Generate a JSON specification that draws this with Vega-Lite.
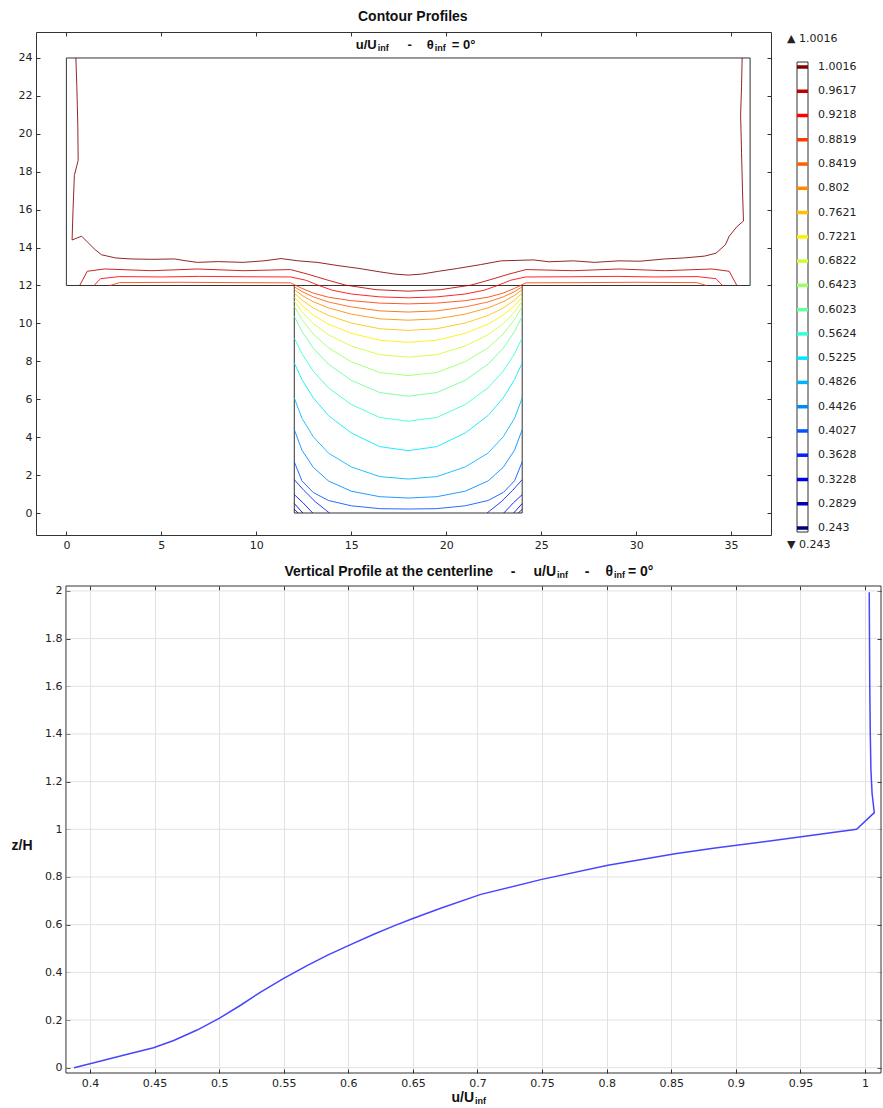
{
  "$schema": "https://vega.github.io/schema/vega-lite/v6.json",
  "background": "white",
  "autosize": {"type": "none"},
  "padding": {"left": 36, "top": 32, "right": 847, "bottom": 1076},
  "bounds": "flush",
  "spacing": 51,
  "config": {
    "view": {"stroke": null},
    "axis": {"labelFont": "DejaVu Sans", "labelFontSize": 11, "labelColor": "#222", "tickColor": "#333", "tickSize": -4, "labelPadding": 8, "domain": false, "grid": false},
    "text": {"font": "Liberation Sans", "fontWeight": "bold", "fontSize": 14, "color": "#111"}
  },
  "datasets": {
    "outline": [
      {"id": "top", "x": 0, "y": 12}, {"id": "top", "x": 0, "y": 24}, {"id": "top", "x": 36, "y": 24}, {"id": "top", "x": 36, "y": 12}, {"id": "top", "x": 0, "y": 12},
      {"id": "slot", "x": 12, "y": 12}, {"id": "slot", "x": 12, "y": 0}, {"id": "slot", "x": 24, "y": 0}, {"id": "slot", "x": 24, "y": 12}
    ],
    "levels": [
      {"level": 1.0016, "label": "1.0016"}, {"level": 0.9617, "label": "0.9617"}, {"level": 0.9218, "label": "0.9218"}, {"level": 0.8819, "label": "0.8819"},
      {"level": 0.8419, "label": "0.8419"}, {"level": 0.802, "label": "0.802"}, {"level": 0.7621, "label": "0.7621"}, {"level": 0.7221, "label": "0.7221"},
      {"level": 0.6822, "label": "0.6822"}, {"level": 0.6423, "label": "0.6423"}, {"level": 0.6023, "label": "0.6023"}, {"level": 0.5624, "label": "0.5624"},
      {"level": 0.5225, "label": "0.5225"}, {"level": 0.4826, "label": "0.4826"}, {"level": 0.4426, "label": "0.4426"}, {"level": 0.4027, "label": "0.4027"},
      {"level": 0.3628, "label": "0.3628"}, {"level": 0.3228, "label": "0.3228"}, {"level": 0.2829, "label": "0.2829"}, {"level": 0.243, "label": "0.243"}
    ],
    "hgrid": [{"z": 0}, {"z": 0.2}, {"z": 0.4}, {"z": 0.6}, {"z": 0.8}, {"z": 1}, {"z": 1.2}, {"z": 1.4}, {"z": 1.6}, {"z": 1.8}, {"z": 2}],
    "profile": [
      {"u": 0.3876, "z": 0}, {"u": 0.4, "z": 0.0165}, {"u": 0.4259, "z": 0.052}, {"u": 0.4492, "z": 0.084}, {"u": 0.4648, "z": 0.114},
      {"u": 0.4829, "z": 0.158}, {"u": 0.5, "z": 0.207}, {"u": 0.5166, "z": 0.262}, {"u": 0.5321, "z": 0.317}, {"u": 0.55, "z": 0.375},
      {"u": 0.5684, "z": 0.429}, {"u": 0.584, "z": 0.472}, {"u": 0.6, "z": 0.512}, {"u": 0.6202, "z": 0.561}, {"u": 0.6358, "z": 0.596},
      {"u": 0.65, "z": 0.626}, {"u": 0.672, "z": 0.67}, {"u": 0.7026, "z": 0.727}, {"u": 0.749, "z": 0.789}, {"u": 0.801, "z": 0.849},
      {"u": 0.853, "z": 0.897}, {"u": 0.884, "z": 0.922}, {"u": 0.9306, "z": 0.954}, {"u": 0.9935, "z": 1.0}, {"u": 1.0072, "z": 1.07},
      {"u": 1.0055, "z": 1.15}, {"u": 1.0046, "z": 1.25}, {"u": 1.0041, "z": 1.4}, {"u": 1.0037, "z": 1.6}, {"u": 1.0035, "z": 1.8}, {"u": 1.0033, "z": 1.994}
    ],
    "contours": [
      {"id": "u100", "level": 1.0016, "x": 0.5, "y": 24}, {"id": "u100", "level": 1.0016, "x": 0.55, "y": 22.5}, {"id": "u100", "level": 1.0016, "x": 0.6, "y": 20.5},
      {"id": "u100", "level": 1.0016, "x": 0.62, "y": 18.6}, {"id": "u100", "level": 1.0016, "x": 0.42, "y": 17.8}, {"id": "u100", "level": 1.0016, "x": 0.35, "y": 16},
      {"id": "u100", "level": 1.0016, "x": 0.3, "y": 14.4}, {"id": "u100", "level": 1.0016, "x": 0.8, "y": 14.6}, {"id": "u100", "level": 1.0016, "x": 1.1, "y": 14.3},
      {"id": "u100", "level": 1.0016, "x": 1.5, "y": 13.9}, {"id": "u100", "level": 1.0016, "x": 1.85, "y": 13.62}, {"id": "u100", "level": 1.0016, "x": 2.6, "y": 13.45},
      {"id": "u100", "level": 1.0016, "x": 3.4, "y": 13.4}, {"id": "u100", "level": 1.0016, "x": 4.5, "y": 13.38}, {"id": "u100", "level": 1.0016, "x": 5.7, "y": 13.4},
      {"id": "u100", "level": 1.0016, "x": 6.3, "y": 13.3}, {"id": "u100", "level": 1.0016, "x": 6.9, "y": 13.22}, {"id": "u100", "level": 1.0016, "x": 8, "y": 13.26},
      {"id": "u100", "level": 1.0016, "x": 9.3, "y": 13.22}, {"id": "u100", "level": 1.0016, "x": 10.4, "y": 13.3}, {"id": "u100", "level": 1.0016, "x": 11.3, "y": 13.42},
      {"id": "u100", "level": 1.0016, "x": 12.2, "y": 13.3}, {"id": "u100", "level": 1.0016, "x": 13.2, "y": 13.22}, {"id": "u100", "level": 1.0016, "x": 14.3, "y": 13.05},
      {"id": "u100", "level": 1.0016, "x": 15.4, "y": 12.9}, {"id": "u100", "level": 1.0016, "x": 16.5, "y": 12.72}, {"id": "u100", "level": 1.0016, "x": 17.3, "y": 12.6},
      {"id": "u100", "level": 1.0016, "x": 18, "y": 12.55}, {"id": "u100", "level": 1.0016, "x": 18.7, "y": 12.6}, {"id": "u100", "level": 1.0016, "x": 19.6, "y": 12.75},
      {"id": "u100", "level": 1.0016, "x": 20.6, "y": 12.9}, {"id": "u100", "level": 1.0016, "x": 21.8, "y": 13.1}, {"id": "u100", "level": 1.0016, "x": 22.9, "y": 13.3},
      {"id": "u100", "level": 1.0016, "x": 24.6, "y": 13.35}, {"id": "u100", "level": 1.0016, "x": 25.4, "y": 13.25}, {"id": "u100", "level": 1.0016, "x": 26.7, "y": 13.3},
      {"id": "u100", "level": 1.0016, "x": 27.8, "y": 13.22}, {"id": "u100", "level": 1.0016, "x": 29.1, "y": 13.3}, {"id": "u100", "level": 1.0016, "x": 30.2, "y": 13.28},
      {"id": "u100", "level": 1.0016, "x": 31.5, "y": 13.4}, {"id": "u100", "level": 1.0016, "x": 32.5, "y": 13.45}, {"id": "u100", "level": 1.0016, "x": 33.6, "y": 13.55},
      {"id": "u100", "level": 1.0016, "x": 34.2, "y": 13.7}, {"id": "u100", "level": 1.0016, "x": 34.7, "y": 14.15}, {"id": "u100", "level": 1.0016, "x": 34.9, "y": 14.6},
      {"id": "u100", "level": 1.0016, "x": 35.3, "y": 15.1}, {"id": "u100", "level": 1.0016, "x": 35.65, "y": 15.4}, {"id": "u100", "level": 1.0016, "x": 35.6, "y": 17},
      {"id": "u100", "level": 1.0016, "x": 35.55, "y": 19}, {"id": "u100", "level": 1.0016, "x": 35.5, "y": 21}, {"id": "u100", "level": 1.0016, "x": 35.55, "y": 22.5},
      {"id": "u100", "level": 1.0016, "x": 35.58, "y": 24},

      {"id": "u96", "level": 0.9617, "x": 0.7, "y": 12}, {"id": "u96", "level": 0.9617, "x": 1.1, "y": 12.75}, {"id": "u96", "level": 0.9617, "x": 2, "y": 12.87},
      {"id": "u96", "level": 0.9617, "x": 4.5, "y": 12.78}, {"id": "u96", "level": 0.9617, "x": 6.9, "y": 12.87}, {"id": "u96", "level": 0.9617, "x": 9.3, "y": 12.78},
      {"id": "u96", "level": 0.9617, "x": 11.8, "y": 12.84}, {"id": "u96", "level": 0.9617, "x": 12.7, "y": 12.6}, {"id": "u96", "level": 0.9617, "x": 13.7, "y": 12.3},
      {"id": "u96", "level": 0.9617, "x": 14.7, "y": 12.02}, {"id": "u96", "level": 0.9617, "x": 16.3, "y": 11.78}, {"id": "u96", "level": 0.9617, "x": 18, "y": 11.7},
      {"id": "u96", "level": 0.9617, "x": 19.7, "y": 11.78}, {"id": "u96", "level": 0.9617, "x": 21.3, "y": 12.02}, {"id": "u96", "level": 0.9617, "x": 22.3, "y": 12.3},
      {"id": "u96", "level": 0.9617, "x": 23.3, "y": 12.6}, {"id": "u96", "level": 0.9617, "x": 24.2, "y": 12.84}, {"id": "u96", "level": 0.9617, "x": 26.7, "y": 12.78},
      {"id": "u96", "level": 0.9617, "x": 29.1, "y": 12.87}, {"id": "u96", "level": 0.9617, "x": 31.5, "y": 12.78}, {"id": "u96", "level": 0.9617, "x": 34, "y": 12.87},
      {"id": "u96", "level": 0.9617, "x": 34.9, "y": 12.75}, {"id": "u96", "level": 0.9617, "x": 35.3, "y": 12},

      {"id": "u92", "level": 0.9218, "x": 1.45, "y": 12}, {"id": "u92", "level": 0.9218, "x": 1.8, "y": 12.36}, {"id": "u92", "level": 0.9218, "x": 2.8, "y": 12.47},
      {"id": "u92", "level": 0.9218, "x": 5, "y": 12.45}, {"id": "u92", "level": 0.9218, "x": 7, "y": 12.48}, {"id": "u92", "level": 0.9218, "x": 9.5, "y": 12.46},
      {"id": "u92", "level": 0.9218, "x": 11.8, "y": 12.45}, {"id": "u92", "level": 0.9218, "x": 12.6, "y": 12.28}, {"id": "u92", "level": 0.9218, "x": 13.3, "y": 12},
      {"id": "u92", "level": 0.9218, "x": 14, "y": 11.75}, {"id": "u92", "level": 0.9218, "x": 15, "y": 11.55}, {"id": "u92", "level": 0.9218, "x": 16.5, "y": 11.4},
      {"id": "u92", "level": 0.9218, "x": 18, "y": 11.35}, {"id": "u92", "level": 0.9218, "x": 19.5, "y": 11.4}, {"id": "u92", "level": 0.9218, "x": 21, "y": 11.55},
      {"id": "u92", "level": 0.9218, "x": 22, "y": 11.75}, {"id": "u92", "level": 0.9218, "x": 22.7, "y": 12}, {"id": "u92", "level": 0.9218, "x": 23.4, "y": 12.28},
      {"id": "u92", "level": 0.9218, "x": 24.2, "y": 12.45}, {"id": "u92", "level": 0.9218, "x": 26.5, "y": 12.46}, {"id": "u92", "level": 0.9218, "x": 29, "y": 12.48},
      {"id": "u92", "level": 0.9218, "x": 31, "y": 12.45}, {"id": "u92", "level": 0.9218, "x": 33.2, "y": 12.47}, {"id": "u92", "level": 0.9218, "x": 34.2, "y": 12.36},
      {"id": "u92", "level": 0.9218, "x": 34.55, "y": 12},

      {"id": "u88", "level": 0.8819, "x": 2.3, "y": 12}, {"id": "u88", "level": 0.8819, "x": 2.8, "y": 12.15}, {"id": "u88", "level": 0.8819, "x": 6, "y": 12.17},
      {"id": "u88", "level": 0.8819, "x": 9, "y": 12.15}, {"id": "u88", "level": 0.8819, "x": 11.8, "y": 12.14}, {"id": "u88", "level": 0.8819, "x": 12.4, "y": 11.85},
      {"id": "u88", "level": 0.8819, "x": 13, "y": 11.6}, {"id": "u88", "level": 0.8819, "x": 13.8, "y": 11.38}, {"id": "u88", "level": 0.8819, "x": 15, "y": 11.2},
      {"id": "u88", "level": 0.8819, "x": 16.5, "y": 11.07}, {"id": "u88", "level": 0.8819, "x": 18, "y": 11.03}, {"id": "u88", "level": 0.8819, "x": 19.5, "y": 11.07},
      {"id": "u88", "level": 0.8819, "x": 21, "y": 11.2}, {"id": "u88", "level": 0.8819, "x": 22.2, "y": 11.38}, {"id": "u88", "level": 0.8819, "x": 23, "y": 11.6},
      {"id": "u88", "level": 0.8819, "x": 23.6, "y": 11.85}, {"id": "u88", "level": 0.8819, "x": 24.2, "y": 12.14}, {"id": "u88", "level": 0.8819, "x": 27, "y": 12.15},
      {"id": "u88", "level": 0.8819, "x": 30, "y": 12.17}, {"id": "u88", "level": 0.8819, "x": 33.2, "y": 12.15}, {"id": "u88", "level": 0.8819, "x": 33.7, "y": 12},

      {"id": "s84", "level": 0.8419, "x": 12, "y": 11.93}, {"id": "s84", "level": 0.8419, "x": 12.4, "y": 11.68}, {"id": "s84", "level": 0.8419, "x": 13, "y": 11.4},
      {"id": "s84", "level": 0.8419, "x": 13.8, "y": 11.13}, {"id": "s84", "level": 0.8419, "x": 15, "y": 10.87}, {"id": "s84", "level": 0.8419, "x": 16.5, "y": 10.66},
      {"id": "s84", "level": 0.8419, "x": 18, "y": 10.6}, {"id": "s84", "level": 0.8419, "x": 19.5, "y": 10.66}, {"id": "s84", "level": 0.8419, "x": 21, "y": 10.87},
      {"id": "s84", "level": 0.8419, "x": 22.2, "y": 11.13}, {"id": "s84", "level": 0.8419, "x": 23, "y": 11.4}, {"id": "s84", "level": 0.8419, "x": 23.6, "y": 11.68},
      {"id": "s84", "level": 0.8419, "x": 24, "y": 11.93},

      {"id": "s80", "level": 0.802, "x": 12, "y": 11.79}, {"id": "s80", "level": 0.802, "x": 12.4, "y": 11.48}, {"id": "s80", "level": 0.802, "x": 13, "y": 11.14},
      {"id": "s80", "level": 0.802, "x": 13.8, "y": 10.82}, {"id": "s80", "level": 0.802, "x": 15, "y": 10.49}, {"id": "s80", "level": 0.802, "x": 16.5, "y": 10.24},
      {"id": "s80", "level": 0.802, "x": 18, "y": 10.17}, {"id": "s80", "level": 0.802, "x": 19.5, "y": 10.24}, {"id": "s80", "level": 0.802, "x": 21, "y": 10.49},
      {"id": "s80", "level": 0.802, "x": 22.2, "y": 10.82}, {"id": "s80", "level": 0.802, "x": 23, "y": 11.14}, {"id": "s80", "level": 0.802, "x": 23.6, "y": 11.48},
      {"id": "s80", "level": 0.802, "x": 24, "y": 11.79},

      {"id": "s76", "level": 0.7621, "x": 12, "y": 11.6}, {"id": "s76", "level": 0.7621, "x": 12.4, "y": 11.23}, {"id": "s76", "level": 0.7621, "x": 13, "y": 10.81},
      {"id": "s76", "level": 0.7621, "x": 13.8, "y": 10.42}, {"id": "s76", "level": 0.7621, "x": 15, "y": 10.02}, {"id": "s76", "level": 0.7621, "x": 16.5, "y": 9.72},
      {"id": "s76", "level": 0.7621, "x": 18, "y": 9.63}, {"id": "s76", "level": 0.7621, "x": 19.5, "y": 9.72}, {"id": "s76", "level": 0.7621, "x": 21, "y": 10.02},
      {"id": "s76", "level": 0.7621, "x": 22.2, "y": 10.42}, {"id": "s76", "level": 0.7621, "x": 23, "y": 10.81}, {"id": "s76", "level": 0.7621, "x": 23.6, "y": 11.23},
      {"id": "s76", "level": 0.7621, "x": 24, "y": 11.6},

      {"id": "s72", "level": 0.7221, "x": 12, "y": 11.4}, {"id": "s72", "level": 0.7221, "x": 12.4, "y": 10.94}, {"id": "s72", "level": 0.7221, "x": 13, "y": 10.44},
      {"id": "s72", "level": 0.7221, "x": 13.8, "y": 9.96}, {"id": "s72", "level": 0.7221, "x": 15, "y": 9.48}, {"id": "s72", "level": 0.7221, "x": 16.5, "y": 9.11},
      {"id": "s72", "level": 0.7221, "x": 18, "y": 9.0}, {"id": "s72", "level": 0.7221, "x": 19.5, "y": 9.11}, {"id": "s72", "level": 0.7221, "x": 21, "y": 9.48},
      {"id": "s72", "level": 0.7221, "x": 22.2, "y": 9.96}, {"id": "s72", "level": 0.7221, "x": 23, "y": 10.44}, {"id": "s72", "level": 0.7221, "x": 23.6, "y": 10.94},
      {"id": "s72", "level": 0.7221, "x": 24, "y": 11.4},

      {"id": "s68", "level": 0.6822, "x": 12, "y": 11.17}, {"id": "s68", "level": 0.6822, "x": 12.4, "y": 10.61}, {"id": "s68", "level": 0.6822, "x": 13, "y": 9.99},
      {"id": "s68", "level": 0.6822, "x": 13.8, "y": 9.4}, {"id": "s68", "level": 0.6822, "x": 15, "y": 8.81}, {"id": "s68", "level": 0.6822, "x": 16.5, "y": 8.35},
      {"id": "s68", "level": 0.6822, "x": 18, "y": 8.22}, {"id": "s68", "level": 0.6822, "x": 19.5, "y": 8.35}, {"id": "s68", "level": 0.6822, "x": 21, "y": 8.81},
      {"id": "s68", "level": 0.6822, "x": 22.2, "y": 9.4}, {"id": "s68", "level": 0.6822, "x": 23, "y": 9.99}, {"id": "s68", "level": 0.6822, "x": 23.6, "y": 10.61},
      {"id": "s68", "level": 0.6822, "x": 24, "y": 11.17},

      {"id": "s64", "level": 0.6423, "x": 12, "y": 10.9}, {"id": "s64", "level": 0.6423, "x": 12.4, "y": 10.21}, {"id": "s64", "level": 0.6423, "x": 13, "y": 9.44},
      {"id": "s64", "level": 0.6423, "x": 13.8, "y": 8.71}, {"id": "s64", "level": 0.6423, "x": 15, "y": 7.98}, {"id": "s64", "level": 0.6423, "x": 16.5, "y": 7.41},
      {"id": "s64", "level": 0.6423, "x": 18, "y": 7.25}, {"id": "s64", "level": 0.6423, "x": 19.5, "y": 7.41}, {"id": "s64", "level": 0.6423, "x": 21, "y": 7.98},
      {"id": "s64", "level": 0.6423, "x": 22.2, "y": 8.71}, {"id": "s64", "level": 0.6423, "x": 23, "y": 9.44}, {"id": "s64", "level": 0.6423, "x": 23.6, "y": 10.21},
      {"id": "s64", "level": 0.6423, "x": 24, "y": 10.9},

      {"id": "s60", "level": 0.6023, "x": 12, "y": 10.38}, {"id": "s60", "level": 0.6023, "x": 12.4, "y": 9.58}, {"id": "s60", "level": 0.6023, "x": 13, "y": 8.69},
      {"id": "s60", "level": 0.6023, "x": 13.8, "y": 7.85}, {"id": "s60", "level": 0.6023, "x": 15, "y": 7.0}, {"id": "s60", "level": 0.6023, "x": 16.5, "y": 6.35},
      {"id": "s60", "level": 0.6023, "x": 18, "y": 6.16}, {"id": "s60", "level": 0.6023, "x": 19.5, "y": 6.35}, {"id": "s60", "level": 0.6023, "x": 21, "y": 7.0},
      {"id": "s60", "level": 0.6023, "x": 22.2, "y": 7.85}, {"id": "s60", "level": 0.6023, "x": 23, "y": 8.69}, {"id": "s60", "level": 0.6023, "x": 23.6, "y": 9.58},
      {"id": "s60", "level": 0.6023, "x": 24, "y": 10.38},

      {"id": "s56", "level": 0.5624, "x": 12, "y": 9.24}, {"id": "s56", "level": 0.5624, "x": 12.4, "y": 8.4}, {"id": "s56", "level": 0.5624, "x": 13, "y": 7.48},
      {"id": "s56", "level": 0.5624, "x": 13.8, "y": 6.6}, {"id": "s56", "level": 0.5624, "x": 15, "y": 5.72}, {"id": "s56", "level": 0.5624, "x": 16.5, "y": 5.04},
      {"id": "s56", "level": 0.5624, "x": 18, "y": 4.84}, {"id": "s56", "level": 0.5624, "x": 19.5, "y": 5.04}, {"id": "s56", "level": 0.5624, "x": 21, "y": 5.72},
      {"id": "s56", "level": 0.5624, "x": 22.2, "y": 6.6}, {"id": "s56", "level": 0.5624, "x": 23, "y": 7.48}, {"id": "s56", "level": 0.5624, "x": 23.6, "y": 8.4},
      {"id": "s56", "level": 0.5624, "x": 24, "y": 9.24},

      {"id": "s52", "level": 0.5225, "x": 12, "y": 7.92}, {"id": "s52", "level": 0.5225, "x": 12.4, "y": 7.04}, {"id": "s52", "level": 0.5225, "x": 13, "y": 6.07},
      {"id": "s52", "level": 0.5225, "x": 13.8, "y": 5.14}, {"id": "s52", "level": 0.5225, "x": 15, "y": 4.22}, {"id": "s52", "level": 0.5225, "x": 16.5, "y": 3.5},
      {"id": "s52", "level": 0.5225, "x": 18, "y": 3.29}, {"id": "s52", "level": 0.5225, "x": 19.5, "y": 3.5}, {"id": "s52", "level": 0.5225, "x": 21, "y": 4.22},
      {"id": "s52", "level": 0.5225, "x": 22.2, "y": 5.14}, {"id": "s52", "level": 0.5225, "x": 23, "y": 6.07}, {"id": "s52", "level": 0.5225, "x": 23.6, "y": 7.04},
      {"id": "s52", "level": 0.5225, "x": 24, "y": 7.92},

      {"id": "s48", "level": 0.4826, "x": 12, "y": 6.07}, {"id": "s48", "level": 0.4826, "x": 12.4, "y": 5.0}, {"id": "s48", "level": 0.4826, "x": 13, "y": 4.02},
      {"id": "s48", "level": 0.4826, "x": 13.8, "y": 3.16}, {"id": "s48", "level": 0.4826, "x": 15, "y": 2.43}, {"id": "s48", "level": 0.4826, "x": 16.5, "y": 1.92},
      {"id": "s48", "level": 0.4826, "x": 18, "y": 1.79}, {"id": "s48", "level": 0.4826, "x": 19.5, "y": 1.92}, {"id": "s48", "level": 0.4826, "x": 21, "y": 2.43},
      {"id": "s48", "level": 0.4826, "x": 22.2, "y": 3.16}, {"id": "s48", "level": 0.4826, "x": 23, "y": 4.02}, {"id": "s48", "level": 0.4826, "x": 23.6, "y": 5.0},
      {"id": "s48", "level": 0.4826, "x": 24, "y": 6.07},

      {"id": "s44", "level": 0.4426, "x": 12, "y": 4.4}, {"id": "s44", "level": 0.4426, "x": 12.4, "y": 3.32}, {"id": "s44", "level": 0.4426, "x": 13, "y": 2.41},
      {"id": "s44", "level": 0.4426, "x": 13.8, "y": 1.69}, {"id": "s44", "level": 0.4426, "x": 15, "y": 1.15}, {"id": "s44", "level": 0.4426, "x": 16.5, "y": 0.86},
      {"id": "s44", "level": 0.4426, "x": 18, "y": 0.79}, {"id": "s44", "level": 0.4426, "x": 19.5, "y": 0.86}, {"id": "s44", "level": 0.4426, "x": 21, "y": 1.15},
      {"id": "s44", "level": 0.4426, "x": 22.2, "y": 1.69}, {"id": "s44", "level": 0.4426, "x": 23, "y": 2.41}, {"id": "s44", "level": 0.4426, "x": 23.6, "y": 3.32},
      {"id": "s44", "level": 0.4426, "x": 24, "y": 4.4},

      {"id": "s40", "level": 0.4027, "x": 12, "y": 2.7}, {"id": "s40", "level": 0.4027, "x": 12.4, "y": 1.7}, {"id": "s40", "level": 0.4027, "x": 13, "y": 1.08},
      {"id": "s40", "level": 0.4027, "x": 13.8, "y": 0.66}, {"id": "s40", "level": 0.4027, "x": 15, "y": 0.38}, {"id": "s40", "level": 0.4027, "x": 16.5, "y": 0.23},
      {"id": "s40", "level": 0.4027, "x": 18, "y": 0.21}, {"id": "s40", "level": 0.4027, "x": 19.5, "y": 0.23}, {"id": "s40", "level": 0.4027, "x": 21, "y": 0.38},
      {"id": "s40", "level": 0.4027, "x": 22.2, "y": 0.66}, {"id": "s40", "level": 0.4027, "x": 23, "y": 1.08}, {"id": "s40", "level": 0.4027, "x": 23.6, "y": 1.7},
      {"id": "s40", "level": 0.4027, "x": 24, "y": 2.7},

      {"id": "c36L", "level": 0.3628, "x": 12, "y": 1.76}, {"id": "c36L", "level": 0.3628, "x": 12.5, "y": 1.2}, {"id": "c36L", "level": 0.3628, "x": 13.1, "y": 0.6}, {"id": "c36L", "level": 0.3628, "x": 13.85, "y": 0},
      {"id": "c36R", "level": 0.3628, "x": 24, "y": 1.76}, {"id": "c36R", "level": 0.3628, "x": 23.5, "y": 1.2}, {"id": "c36R", "level": 0.3628, "x": 22.9, "y": 0.6}, {"id": "c36R", "level": 0.3628, "x": 22.15, "y": 0},
      {"id": "c32L", "level": 0.3228, "x": 12, "y": 0.97}, {"id": "c32L", "level": 0.3228, "x": 12.45, "y": 0.55}, {"id": "c32L", "level": 0.3228, "x": 12.97, "y": 0},
      {"id": "c32R", "level": 0.3228, "x": 24, "y": 0.97}, {"id": "c32R", "level": 0.3228, "x": 23.55, "y": 0.55}, {"id": "c32R", "level": 0.3228, "x": 23.03, "y": 0},
      {"id": "c28L", "level": 0.2829, "x": 12, "y": 0.5}, {"id": "c28L", "level": 0.2829, "x": 12.45, "y": 0},
      {"id": "c28R", "level": 0.2829, "x": 24, "y": 0.5}, {"id": "c28R", "level": 0.2829, "x": 23.55, "y": 0},
      {"id": "c24L", "level": 0.243, "x": 12, "y": 0.2}, {"id": "c24L", "level": 0.243, "x": 12.2, "y": 0},
      {"id": "c24R", "level": 0.243, "x": 24, "y": 0.2}, {"id": "c24R", "level": 0.243, "x": 23.8, "y": 0}
    ]
  },
  "vconcat": [
    {
      "width": 735,
      "height": 503,
      "view": {"stroke": "#333"},
      "resolve": {"scale": {"x": "independent", "y": "independent"}},
      "layer": [
        {
          "layer": [
            {
              "data": {"name": "outline"},
              "mark": {"type": "line", "color": "#333", "strokeWidth": 1},
              "encoding": {
                "x": {"field": "x", "type": "quantitative", "title": null, "scale": {"domain": [-1.6, 37.1], "nice": false, "zero": false}, "axis": {"values": [0, 5, 10, 15, 20, 25, 30, 35]}},
                "y": {"field": "y", "type": "quantitative", "title": null, "scale": {"domain": [-1.16, 25.37], "nice": false, "zero": false}, "axis": {"values": [0, 2, 4, 6, 8, 10, 12, 14, 16, 18, 20, 22, 24]}},
                "detail": {"field": "id"},
                "order": {"value": null}
              }
            },
            {
              "data": {"name": "contours"},
              "mark": {"type": "line", "strokeWidth": 1, "opacity": 0.85},
              "encoding": {
                "x": {"field": "x", "type": "quantitative", "title": null, "scale": {"domain": [-1.6, 37.1], "nice": false, "zero": false}},
                "y": {"field": "y", "type": "quantitative", "title": null, "scale": {"domain": [-1.16, 25.37], "nice": false, "zero": false}},
                "detail": {"field": "id"},
                "color": {"field": "level", "type": "ordinal", "legend": null, "scale": {"domain": [0.243, 0.2829, 0.3228, 0.3628, 0.4027, 0.4426, 0.4826, 0.5225, 0.5624, 0.6023, 0.6423, 0.6822, 0.7221, 0.7621, 0.802, 0.8419, 0.8819, 0.9218, 0.9617, 1.0016], "range": ["#00007a", "#0000b0", "#0000e6", "#0022ff", "#0055ff", "#0088ff", "#00b4ff", "#00e6ff", "#33ffd6", "#66ff99", "#99ff66", "#ccff33", "#ffee00", "#ffc000", "#ff8c00", "#ff6000", "#ff3c00", "#ff0000", "#c00000", "#800000"]}},
                "order": {"value": null}
              }
            },
            {
              "data": {"values": [{}]},
              "mark": {"type": "text", "text": "Contour Profiles", "align": "center", "baseline": "alphabetic"},
              "encoding": {"x": {"datum": 18.24, "scale": {"domain": [-1.6, 37.1], "nice": false, "zero": false}}, "y": {"datum": 25.97, "scale": {"domain": [-1.16, 25.37], "nice": false, "zero": false}}}
            },
            {
              "data": {"values": [{}]},
              "mark": {"type": "text", "text": "u/U", "align": "right", "baseline": "alphabetic", "fontSize": 13},
              "encoding": {"x": {"datum": 16.34, "scale": {"domain": [-1.6, 37.1], "nice": false, "zero": false}}, "y": {"datum": 24.46, "scale": {"domain": [-1.16, 25.37], "nice": false, "zero": false}}}
            },
            {
              "data": {"values": [{}]},
              "mark": {"type": "text", "text": "inf", "align": "left", "baseline": "alphabetic", "fontSize": 9, "dy": 2},
              "encoding": {"x": {"datum": 16.39, "scale": {"domain": [-1.6, 37.1], "nice": false, "zero": false}}, "y": {"datum": 24.46, "scale": {"domain": [-1.16, 25.37], "nice": false, "zero": false}}}
            },
            {
              "data": {"values": [{}]},
              "mark": {"type": "text", "text": "-", "align": "center", "baseline": "alphabetic", "fontSize": 13},
              "encoding": {"x": {"datum": 18.08, "scale": {"domain": [-1.6, 37.1], "nice": false, "zero": false}}, "y": {"datum": 24.46, "scale": {"domain": [-1.16, 25.37], "nice": false, "zero": false}}}
            },
            {
              "data": {"values": [{}]},
              "mark": {"type": "text", "text": "θ", "align": "right", "baseline": "alphabetic", "fontSize": 13},
              "encoding": {"x": {"datum": 19.34, "scale": {"domain": [-1.6, 37.1], "nice": false, "zero": false}}, "y": {"datum": 24.46, "scale": {"domain": [-1.16, 25.37], "nice": false, "zero": false}}}
            },
            {
              "data": {"values": [{}]},
              "mark": {"type": "text", "text": "inf", "align": "left", "baseline": "alphabetic", "fontSize": 9, "dy": 2},
              "encoding": {"x": {"datum": 19.39, "scale": {"domain": [-1.6, 37.1], "nice": false, "zero": false}}, "y": {"datum": 24.46, "scale": {"domain": [-1.16, 25.37], "nice": false, "zero": false}}}
            },
            {
              "data": {"values": [{}]},
              "mark": {"type": "text", "text": "= 0°", "align": "left", "baseline": "alphabetic", "fontSize": 13},
              "encoding": {"x": {"datum": 20.29, "scale": {"domain": [-1.6, 37.1], "nice": false, "zero": false}}, "y": {"datum": 24.46, "scale": {"domain": [-1.16, 25.37], "nice": false, "zero": false}}}
            }
          ]
        },
        {
          "data": {"values": [{"x": 0, "y": 0}]},
          "mark": {"type": "point", "opacity": 0},
          "encoding": {
            "x": {"field": "x", "type": "quantitative", "title": null, "scale": {"domain": [-1.6, 37.1], "nice": false, "zero": false}, "axis": {"orient": "top", "labels": false, "values": [0, 5, 10, 15, 20, 25, 30, 35]}},
            "y": {"field": "y", "type": "quantitative", "title": null, "scale": {"domain": [-1.16, 25.37], "nice": false, "zero": false}, "axis": {"orient": "right", "labels": false, "values": [0, 2, 4, 6, 8, 10, 12, 14, 16, 18, 20, 22, 24]}}
          }
        },
        {
          "layer": [
            {
              "data": {"values": [{}]},
              "mark": {"type": "rect", "fill": "white", "stroke": "#333", "strokeWidth": 1},
              "encoding": {
                "x": {"datum": 0, "scale": {"domain": [-69.18, -2.364], "nice": false, "zero": false}, "axis": null},
                "x2": {"datum": 1},
                "y": {"datum": 1.0098, "scale": {"domain": [0.2315, 1.0592], "nice": false, "zero": false}, "axis": null},
                "y2": {"datum": 0.2364}
              }
            },
            {
              "data": {"name": "levels"},
              "mark": {"type": "rule", "strokeWidth": 3.5},
              "encoding": {
                "x": {"datum": 0, "scale": {"domain": [-69.18, -2.364], "nice": false, "zero": false}, "axis": null},
                "x2": {"datum": 1},
                "y": {"field": "level", "type": "quantitative", "scale": {"domain": [0.2315, 1.0592], "nice": false, "zero": false}, "axis": null},
                "color": {"field": "level", "type": "ordinal", "legend": null, "scale": {"domain": [0.243, 0.2829, 0.3228, 0.3628, 0.4027, 0.4426, 0.4826, 0.5225, 0.5624, 0.6023, 0.6423, 0.6822, 0.7221, 0.7621, 0.802, 0.8419, 0.8819, 0.9218, 0.9617, 1.0016], "range": ["#00007a", "#0000b0", "#0000e6", "#0022ff", "#0055ff", "#0088ff", "#00b4ff", "#00e6ff", "#33ffd6", "#66ff99", "#99ff66", "#ccff33", "#ffee00", "#ffc000", "#ff8c00", "#ff6000", "#ff3c00", "#ff0000", "#c00000", "#800000"]}}
              }
            },
            {
              "data": {"name": "levels"},
              "mark": {"type": "text", "align": "left", "baseline": "middle", "dx": 10, "font": "DejaVu Sans", "fontWeight": "normal", "fontSize": 11, "color": "#222"},
              "encoding": {
                "x": {"datum": 1, "scale": {"domain": [-69.18, -2.364], "nice": false, "zero": false}, "axis": null},
                "y": {"field": "level", "type": "quantitative", "scale": {"domain": [0.2315, 1.0592], "nice": false, "zero": false}, "axis": null},
                "text": {"field": "label"}
              }
            },
            {
              "data": {"values": [{}]},
              "mark": {"type": "text", "text": "▲ 1.0016", "align": "left", "baseline": "middle", "font": "DejaVu Sans", "fontWeight": "normal", "fontSize": 11, "color": "#222"},
              "encoding": {
                "x": {"datum": -0.9, "scale": {"domain": [-69.18, -2.364], "nice": false, "zero": false}, "axis": null},
                "y": {"datum": 1.0477, "scale": {"domain": [0.2315, 1.0592], "nice": false, "zero": false}, "axis": null}
              }
            },
            {
              "data": {"values": [{}]},
              "mark": {"type": "text", "text": "▼ 0.243", "align": "left", "baseline": "middle", "font": "DejaVu Sans", "fontWeight": "normal", "fontSize": 11, "color": "#222"},
              "encoding": {
                "x": {"datum": -0.9, "scale": {"domain": [-69.18, -2.364], "nice": false, "zero": false}, "axis": null},
                "y": {"datum": 0.215, "scale": {"domain": [0.2315, 1.0592], "nice": false, "zero": false}, "axis": null}
              }
            }
          ]
        }
      ]
    },
    {
      "width": 845,
      "height": 487,
      "view": {"stroke": null},
      "resolve": {"axis": {"x": "independent", "y": "independent"}},
      "layer": [
        {
          "data": {"name": "hgrid"},
          "mark": {"type": "rule", "color": "#e2e2e2", "strokeWidth": 1},
          "encoding": {
            "x": {"datum": 0.3814, "scale": {"domain": [0.3582, 1.0124], "nice": false, "zero": false}, "axis": null},
            "x2": {"datum": 1.0124},
            "y": {"field": "z", "type": "quantitative", "scale": {"domain": [-0.0222, 2.0206], "nice": false, "zero": false}, "axis": null}
          }
        },
        {
          "data": {"name": "profile"},
          "mark": {"type": "line", "color": "#4646ff", "strokeWidth": 1.5},
          "encoding": {
            "x": {"field": "u", "type": "quantitative", "title": null, "scale": {"domain": [0.3582, 1.0124], "nice": false, "zero": false}, "axis": {"values": [0.4, 0.45, 0.5, 0.55, 0.6, 0.65, 0.7, 0.75, 0.8, 0.85, 0.9, 0.95, 1.0], "format": ".2~f", "grid": true, "gridColor": "#e2e2e2"}},
            "y": {"field": "z", "type": "quantitative", "title": null, "scale": {"domain": [-0.0222, 2.0206], "nice": false, "zero": false}, "axis": {"values": [0, 0.2, 0.4, 0.6, 0.8, 1, 1.2, 1.4, 1.6, 1.8, 2], "format": ".1~f", "offset": -30}},
            "order": {"value": null}
          }
        },
        {
          "data": {"values": [{}]},
          "mark": {"type": "rect", "filled": false, "color": "#333", "strokeWidth": 1},
          "encoding": {
            "x": {"datum": 0.3814, "scale": {"domain": [0.3582, 1.0124], "nice": false, "zero": false}, "axis": null},
            "x2": {"datum": 1.0124},
            "y": {"datum": -0.0222, "scale": {"domain": [-0.0222, 2.0206], "nice": false, "zero": false}, "axis": null},
            "y2": {"datum": 2.0206}
          }
        },
        {
          "data": {"values": [{"u": 0.5, "z": 1}]},
          "mark": {"type": "point", "opacity": 0},
          "encoding": {
            "x": {"field": "u", "type": "quantitative", "title": null, "scale": {"domain": [0.3582, 1.0124], "nice": false, "zero": false}, "axis": {"orient": "top", "labels": false, "values": [0.4, 0.45, 0.5, 0.55, 0.6, 0.65, 0.7, 0.75, 0.8, 0.85, 0.9, 0.95, 1.0]}},
            "y": {"field": "z", "type": "quantitative", "title": null, "scale": {"domain": [-0.0222, 2.0206], "nice": false, "zero": false}, "axis": {"orient": "right", "labels": false, "values": [0, 0.2, 0.4, 0.6, 0.8, 1, 1.2, 1.4, 1.6, 1.8, 2]}}
          }
        },
        {
          "data": {"values": [{}]},
          "mark": {"type": "text", "text": "Vertical Profile at the centerline", "align": "right", "baseline": "alphabetic"},
          "encoding": {"x": {"datum": 0.712, "scale": {"domain": [0.3582, 1.0124], "nice": false, "zero": false}, "axis": null}, "y": {"datum": 2.0646, "scale": {"domain": [-0.0222, 2.0206], "nice": false, "zero": false}, "axis": null}}
        },
        {
          "data": {"values": [{}]},
          "mark": {"type": "text", "text": "-", "align": "center", "baseline": "alphabetic"},
          "encoding": {"x": {"datum": 0.7275, "scale": {"domain": [0.3582, 1.0124], "nice": false, "zero": false}, "axis": null}, "y": {"datum": 2.0646, "scale": {"domain": [-0.0222, 2.0206], "nice": false, "zero": false}, "axis": null}}
        },
        {
          "data": {"values": [{}]},
          "mark": {"type": "text", "text": "u/U", "align": "right", "baseline": "alphabetic"},
          "encoding": {"x": {"datum": 0.7608, "scale": {"domain": [0.3582, 1.0124], "nice": false, "zero": false}, "axis": null}, "y": {"datum": 2.0646, "scale": {"domain": [-0.0222, 2.0206], "nice": false, "zero": false}, "axis": null}}
        },
        {
          "data": {"values": [{}]},
          "mark": {"type": "text", "text": "inf", "align": "left", "baseline": "alphabetic", "fontSize": 9, "dy": 2},
          "encoding": {"x": {"datum": 0.7615, "scale": {"domain": [0.3582, 1.0124], "nice": false, "zero": false}, "axis": null}, "y": {"datum": 2.0646, "scale": {"domain": [-0.0222, 2.0206], "nice": false, "zero": false}, "axis": null}}
        },
        {
          "data": {"values": [{}]},
          "mark": {"type": "text", "text": "-", "align": "center", "baseline": "alphabetic"},
          "encoding": {"x": {"datum": 0.7848, "scale": {"domain": [0.3582, 1.0124], "nice": false, "zero": false}, "axis": null}, "y": {"datum": 2.0646, "scale": {"domain": [-0.0222, 2.0206], "nice": false, "zero": false}, "axis": null}}
        },
        {
          "data": {"values": [{}]},
          "mark": {"type": "text", "text": "θ", "align": "right", "baseline": "alphabetic"},
          "encoding": {"x": {"datum": 0.8049, "scale": {"domain": [0.3582, 1.0124], "nice": false, "zero": false}, "axis": null}, "y": {"datum": 2.0646, "scale": {"domain": [-0.0222, 2.0206], "nice": false, "zero": false}, "axis": null}}
        },
        {
          "data": {"values": [{}]},
          "mark": {"type": "text", "text": "inf", "align": "left", "baseline": "alphabetic", "fontSize": 9, "dy": 2},
          "encoding": {"x": {"datum": 0.8057, "scale": {"domain": [0.3582, 1.0124], "nice": false, "zero": false}, "axis": null}, "y": {"datum": 2.0646, "scale": {"domain": [-0.0222, 2.0206], "nice": false, "zero": false}, "axis": null}}
        },
        {
          "data": {"values": [{}]},
          "mark": {"type": "text", "text": "= 0°", "align": "left", "baseline": "alphabetic"},
          "encoding": {"x": {"datum": 0.8165, "scale": {"domain": [0.3582, 1.0124], "nice": false, "zero": false}, "axis": null}, "y": {"datum": 2.0646, "scale": {"domain": [-0.0222, 2.0206], "nice": false, "zero": false}, "axis": null}}
        },
        {
          "data": {"values": [{}]},
          "mark": {"type": "text", "text": "u/U", "align": "right", "baseline": "alphabetic"},
          "encoding": {"x": {"datum": 0.6973, "scale": {"domain": [0.3582, 1.0124], "nice": false, "zero": false}, "axis": null}, "y": {"datum": -0.1439, "scale": {"domain": [-0.0222, 2.0206], "nice": false, "zero": false}, "axis": null}}
        },
        {
          "data": {"values": [{}]},
          "mark": {"type": "text", "text": "inf", "align": "left", "baseline": "alphabetic", "fontSize": 9, "dy": 2},
          "encoding": {"x": {"datum": 0.698, "scale": {"domain": [0.3582, 1.0124], "nice": false, "zero": false}, "axis": null}, "y": {"datum": -0.1439, "scale": {"domain": [-0.0222, 2.0206], "nice": false, "zero": false}, "axis": null}}
        },
        {
          "data": {"values": [{}]},
          "mark": {"type": "text", "text": "z/H", "align": "center", "baseline": "alphabetic"},
          "encoding": {"x": {"datum": 0.3474, "scale": {"domain": [0.3582, 1.0124], "nice": false, "zero": false}, "axis": null}, "y": {"datum": 0.913, "scale": {"domain": [-0.0222, 2.0206], "nice": false, "zero": false}, "axis": null}}
        }
      ]
    }
  ]
}
